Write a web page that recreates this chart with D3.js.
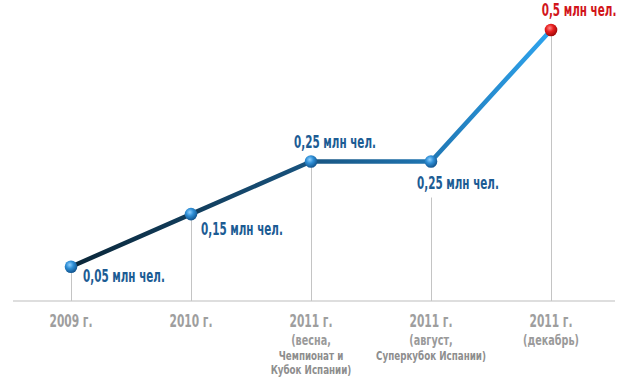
<!DOCTYPE html>
<html>
<head>
<meta charset="utf-8">
<script src="https://cdn.jsdelivr.net/npm/d3@7"></script>
<style>
  html, body { margin: 0; padding: 0; background: #fff; }
  svg { display: block; }
  text { font-family: "DejaVu Sans Condensed", "DejaVu Sans", sans-serif; font-weight: bold; }
</style>
</head>
<body>
<svg id="chart" width="623" height="382"></svg>
<script>
// ---- data ----
const categories = ["2009 г.", "2010 г.", "2011 г.", "2011 г.", "2011 г."];
const subLabels = [
  [],
  [],
  ["(весна,", "Чемпионат и", "Кубок Испании)"],
  ["(август,", "Суперкубок Испании)"],
  ["(декабрь)"]
];
const values = [0.05, 0.15, 0.25, 0.25, 0.5];
const valueLabels = ["0,05 млн чел.", "0,15 млн чел.", "0,25 млн чел.", "0,25 млн чел.", "0,5 млн чел."];

// ---- layout / style ----
const baseY = 301;
const svg = d3.select("#chart");
const x = d3.scalePoint().domain(d3.range(categories.length)).range([71, 551]);
const y = d3.scaleLinear().domain([0, 0.5]).range([293, 30]);

const labelPlacement = [
  { dx: 12, dy: 15, anchor: "start" },
  { dx: 10, dy: 21, anchor: "start" },
  { dx: 24, dy: -14, anchor: "middle" },
  { dx: -14, dy: 27, anchor: "start" },
  { dx: 28, dy: -14, anchor: "middle" }
];
const gridTopOffset = [0, 0, 0, 36, 0];

const defs = svg.append("defs");
const lg = defs.append("linearGradient").attr("id", "lineGrad")
  .attr("gradientUnits", "userSpaceOnUse")
  .attr("x1", x(0)).attr("x2", x(4)).attr("y1", 0).attr("y2", 0);
lg.append("stop").attr("offset", "0%").attr("stop-color", "#0a2638");
lg.append("stop").attr("offset", "45%").attr("stop-color", "#174f78");
lg.append("stop").attr("offset", "70%").attr("stop-color", "#1d6ea8");
lg.append("stop").attr("offset", "100%").attr("stop-color", "#2ea4ee");

const bg = defs.append("radialGradient").attr("id", "ballBlue")
  .attr("cx", "40%").attr("cy", "35%").attr("r", "65%");
bg.append("stop").attr("offset", "0%").attr("stop-color", "#8fd0ff");
bg.append("stop").attr("offset", "45%").attr("stop-color", "#2f8fd6");
bg.append("stop").attr("offset", "100%").attr("stop-color", "#12558f");
const rg = defs.append("radialGradient").attr("id", "ballRed")
  .attr("cx", "40%").attr("cy", "35%").attr("r", "65%");
rg.append("stop").attr("offset", "0%").attr("stop-color", "#ff8a8a");
rg.append("stop").attr("offset", "45%").attr("stop-color", "#e82020");
rg.append("stop").attr("offset", "100%").attr("stop-color", "#a00808");

// baseline
svg.append("line").attr("x1", 13).attr("x2", 615).attr("y1", baseY).attr("y2", baseY)
  .attr("stroke", "#bdbdbd").attr("stroke-width", 1);

// vertical guides
svg.selectAll(".guide").data(values).join("line")
  .attr("x1", (d, i) => x(i) + 0.5).attr("x2", (d, i) => x(i) + 0.5)
  .attr("y1", (d, i) => y(d) + gridTopOffset[i]).attr("y2", baseY)
  .attr("stroke", "#c4c4c4").attr("stroke-width", 1);

// line
const line = d3.line().x((d, i) => x(i)).y(d => y(d));
svg.append("path").datum(values).attr("d", line)
  .attr("fill", "none").attr("stroke", "url(#lineGrad)").attr("stroke-width", 4.5)
  .attr("stroke-linejoin", "round");

// points
svg.selectAll(".pt").data(values).join("circle")
  .attr("cx", (d, i) => x(i)).attr("cy", d => y(d)).attr("r", 6.3)
  .attr("fill", (d, i) => i === values.length - 1 ? "url(#ballRed)" : "url(#ballBlue)");

// helper: draw horizontally squeezed text
function squeezed(parent, str, px, py, size, color, anchor, k) {
  const g = parent.append("g").attr("transform", `translate(${px},${py}) scale(${k},1)`);
  return g.append("text").text(str).attr("font-size", size).attr("fill", color)
    .attr("text-anchor", anchor);
}
function measure(str, size) {
  const t = svg.append("text").text(str).attr("font-size", size);
  const w = t.node().getComputedTextLength();
  t.remove();
  return w;
}
const valSize = 18, yearSize = 17.5, sub1Size = 14.5, sub2Size = 11.5;
const kVal = 82 / measure("0,05 млн чел.", valSize);
const kYear = 43 / measure("2011 г.", yearSize);
const kSub1 = 56 / measure("(декабрь)", sub1Size);
const kSub2 = 110 / measure("Суперкубок Испании)", sub2Size);

// value labels
values.forEach((v, i) => {
  const p = labelPlacement[i];
  const isLast = i === values.length - 1;
  squeezed(svg, valueLabels[i], x(i) + p.dx, y(v) + p.dy, valSize,
    isLast ? "#d2151b" : "#1c5c94", p.anchor, kVal);
});

// category labels
categories.forEach((c, i) => {
  squeezed(svg, c, x(i), 327, yearSize, "#9e9e9e", "middle", kYear);
  const ys = [345, 360, 374];
  subLabels[i].forEach((s, j) => {
    const small = j > 0;
    squeezed(svg, s, x(i), ys[j], small ? sub2Size : sub1Size,
      small ? "#8e8e8e" : "#9a9a9a", "middle", small ? kSub2 : kSub1);
  });
});
</script>
</body>
</html>
